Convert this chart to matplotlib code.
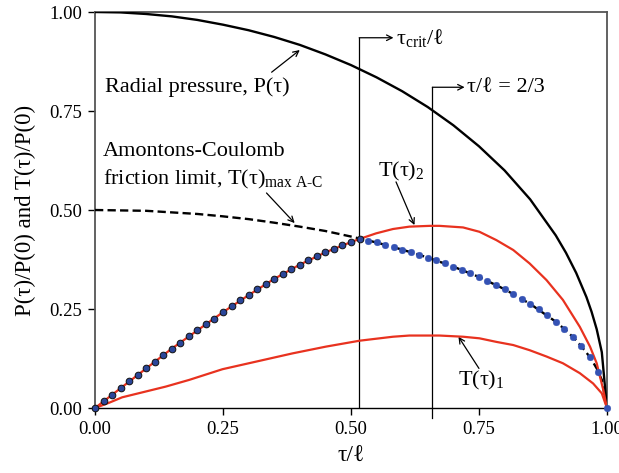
import numpy as np
import matplotlib
matplotlib.use('Agg')
import matplotlib.pyplot as plt

plt.rcParams['font.family'] = ['Liberation Serif', 'DejaVu Serif']
plt.rcParams['mathtext.fontset'] = 'custom'
plt.rcParams['mathtext.rm'] = 'Liberation Serif'
plt.rcParams['mathtext.it'] = 'Liberation Serif:italic'

# radial pressure P(tau)/P(0)
p_x = [0, 0.05, 0.1, 0.15, 0.2, 0.25, 0.3, 0.35, 0.4, 0.45, 0.5, 0.55, 0.6, 0.65,
       0.7, 0.75, 0.8, 0.85, 0.9, 0.92, 0.94, 0.96, 0.97, 0.98, 0.99, 1.0]
p_y = [1.0, 0.999, 0.995, 0.989, 0.980, 0.968, 0.954, 0.937, 0.917, 0.893, 0.866,
       0.835, 0.800, 0.760, 0.714, 0.661, 0.600, 0.527, 0.436, 0.392, 0.341, 0.280,
       0.243, 0.199, 0.141, 0.0]
# Amontons-Coulomb friction limit
ac_y = [0.500, 0.499, 0.498, 0.494, 0.490, 0.484, 0.477, 0.468, 0.458, 0.447, 0.433,
        0.418, 0.400, 0.380, 0.357, 0.331, 0.300, 0.263, 0.218, 0.196, 0.171, 0.140,
        0.122, 0.100, 0.071, 0.0]

# blue dots, tau/l = 0, 1/60, ..., 1
dot_y = [0.000, 0.018, 0.034, 0.050, 0.067, 0.083, 0.100, 0.116, 0.135, 0.150, 0.165,
         0.181, 0.196, 0.212, 0.226, 0.242, 0.258, 0.273, 0.285, 0.300, 0.312, 0.326,
         0.338, 0.350, 0.362, 0.373, 0.384, 0.393, 0.402, 0.411, 0.419, 0.427,
         0.423, 0.418, 0.412, 0.406, 0.400, 0.394, 0.387, 0.380, 0.373, 0.365, 0.357,
         0.349, 0.340, 0.331, 0.321, 0.311, 0.300, 0.289, 0.276, 0.263, 0.249, 0.234,
         0.218, 0.200, 0.180, 0.156, 0.128, 0.091, 0.000]
dot_x = np.arange(len(dot_y)) / (len(dot_y) - 1)
n_stick = 32

# T(tau)_2
t2_x = [0, 0.05, 0.1, 0.15, 0.2, 0.25, 0.3, 0.35, 0.4, 0.45, 0.5, 0.517, 0.549, 0.582,
        0.614, 0.654, 0.673, 0.719, 0.751, 0.784, 0.817, 0.849, 0.882, 0.914, 0.947,
        0.967, 0.98, 0.993, 1.0]
t2_y = [0, 0.050, 0.100, 0.150, 0.196, 0.242, 0.285, 0.326, 0.362, 0.393, 0.419, 0.427,
        0.441, 0.452, 0.458, 0.460, 0.460, 0.456, 0.445, 0.424, 0.399, 0.365, 0.323,
        0.273, 0.205, 0.155, 0.113, 0.045, 0]

# T(tau)_1
t1_x = [0, 0.027, 0.053, 0.138, 0.184, 0.249, 0.321, 0.386, 0.451, 0.517, 0.582, 0.614,
        0.673, 0.719, 0.751, 0.784, 0.817, 0.849, 0.882, 0.914, 0.947, 0.973, 0.990, 1.0]
t1_y = [0, 0.013, 0.027, 0.054, 0.071, 0.098, 0.119, 0.138, 0.155, 0.170, 0.180, 0.183,
        0.183, 0.180, 0.176, 0.167, 0.159, 0.146, 0.130, 0.113, 0.088, 0.062, 0.037, 0]

tau_crit = 0.516
tau_23 = 0.659

fig = plt.figure(figsize=(6.19, 4.73), dpi=100)
ax = fig.add_axes([0.1535, 0.1374, 0.827, 0.8372])

red = '#e8321f'
fs = 16
ax.plot(p_x, p_y, color='black', lw=1.7, zorder=3)
ax.plot(p_x, ac_y, color='black', lw=1.7, ls=(0, (3.5, 1.8)), zorder=3)
ax.plot(t2_x, t2_y, color=red, lw=1.6, zorder=4)
ax.plot(t1_x, t1_y, color=red, lw=1.6, zorder=4)
ax.plot(dot_x[:n_stick], dot_y[:n_stick], 'o', ms=4.8, mfc='#2b4699', mec='#111111',
        mew=0.7, zorder=5, clip_on=False)
ax.plot(dot_x[n_stick:], dot_y[n_stick:], 'o', ms=4.8, mfc='#3452b4', mec='#3452b4',
        mew=0.3, zorder=5, clip_on=False)

# vertical markers with arrows
arrow = dict(arrowstyle='->', color='black', lw=0.9, shrinkA=0, shrinkB=0)
ax.plot([tau_crit, tau_crit], [0, 0.935], color='black', lw=0.9, zorder=2)
ax.annotate('', xy=(0.583, 0.935), xytext=(tau_crit, 0.935), arrowprops=arrow)
ax.text(0.587, 0.935, 'τ$_{\\mathrm{crit}}$/ℓ', fontsize=fs, va='center', ha='left')

ax.plot([tau_23, tau_23], [-0.025, 0.81], color='black', lw=0.9, zorder=2, clip_on=False)
ax.annotate('', xy=(0.722, 0.81), xytext=(tau_23, 0.81), arrowprops=arrow)
ax.text(0.726, 0.81, 'τ/ℓ = 2/3', fontsize=fs, va='center', ha='left')

# curve labels
ax.text(0.02, 0.81, 'Radial pressure, P(τ)', fontsize=fs, va='center', ha='left')
ax.annotate('', xy=(0.40, 0.904), xytext=(0.345, 0.848), arrowprops=arrow)
ax.text(0.016, 0.648, 'Amontons-Coulomb', fontsize=fs, va='center', ha='left')
ax.text(0.016, 0.578, 'friction limit, T(τ)$_{\\mathrm{max\\ A}\\text{-}\\mathrm{C}}$',
        fontsize=fs, va='center', ha='left')
ax.annotate('', xy=(0.39, 0.467), xytext=(0.335, 0.543), arrowprops=arrow)

ax.text(0.553, 0.598, 'T(τ)$_2$', fontsize=fs, va='center', ha='left')
ax.annotate('', xy=(0.624, 0.462), xytext=(0.588, 0.571), arrowprops=arrow)

ax.text(0.71, 0.07, 'T(τ)$_1$', fontsize=fs, va='center', ha='left')
ax.annotate('', xy=(0.71, 0.18), xytext=(0.75, 0.10), arrowprops=arrow)

ax.set_xlim(0, 1)
ax.set_ylim(0, 1)
ticks = [0, 0.25, 0.5, 0.75, 1.0]
ax.set_xticks(ticks)
ax.set_yticks(ticks)
ax.set_xticklabels(['%.2f' % t for t in ticks])
ax.set_yticklabels(['%.2f' % t for t in ticks])
ax.tick_params(direction='out', length=5, width=1, labelsize=13.5, pad=4)
for s in ax.spines.values():
    s.set_color('#555555')
    s.set_linewidth(1.3)
ax.spines['bottom'].set_color('black')
ax.spines['bottom'].set_linewidth(1.0)

ax.set_xlabel('τ/ℓ', fontsize=17, labelpad=6)
ax.set_ylabel('P(τ)/P(0) and T(τ)/P(0)', fontsize=16.5, labelpad=10)

fig.savefig('out.png', dpi=100)
